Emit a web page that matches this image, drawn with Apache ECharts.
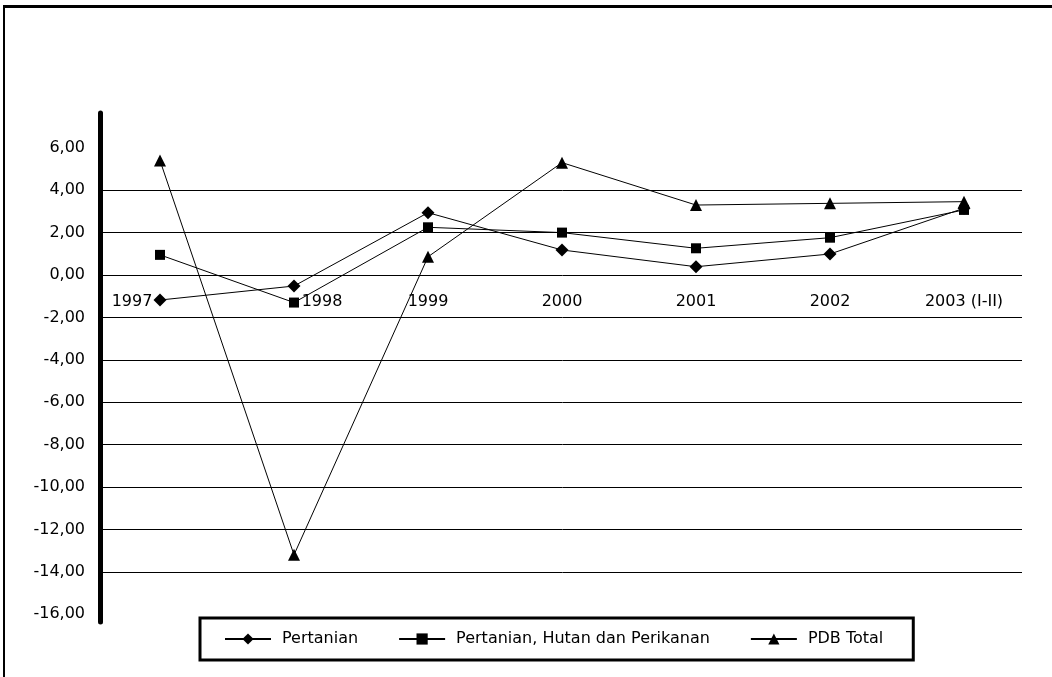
<!DOCTYPE html>
<html>
<head>
<meta charset="utf-8">
<script src="https://cdn.jsdelivr.net/npm/echarts@6/dist/echarts.min.js"></script>
<style>
    html, body {margin:0; padding:0; background:#fff;}
    #chart {width:1052px; height:677px;}
    /* bingkai kiri & atas dari gambar asli */
    #frame {position:absolute; left:3px; top:5px; right:0; bottom:0; border-top:3px solid #000; border-left:2px solid #000; pointer-events:none;}
</style>
</head>
<body>
<div id="chart"></div>
<div id="frame"></div>
<script>
// data
var years = ['1997', '1998', '1999', '2000', '2001', '2002', '2003 (I-II)'];
var pertanian = [-1.18, -0.52, 2.94, 1.18, 0.39, 0.99, 3.15];
var pertanianHutan = [0.95, -1.30, 2.25, 2.00, 1.26, 1.76, 3.07];
var pdbTotal = [5.40, -13.20, 0.86, 5.30, 3.30, 3.38, 3.46];
var seriesNames = ['Pertanian', 'Pertanian, Hutan dan Perikanan', 'PDB Total'];
// sumbu y
var yMin = -16, yMax = 8, yStep = 2, yLabelMax = 6;
var gridLineMin = -14, gridLineMax = 4;

var font = 'DejaVu Sans';
var plotHeight = 508.8;
// label tahun berada di garis nol: geser sumbu x dari bawah ke posisi 0
var zeroOffset = -plotHeight * (0 - yMin) / (yMax - yMin);
// label 1997 digeser ke kiri, 1998 ke kanan (seperti gambar asli)
var labelStyle = {'1997': 'kiri', '1998': 'kanan'};

var chart = echarts.init(document.getElementById('chart'));

function lineSeries(name, data, symbol, size) {
    return {
        name: name,
        type: 'line',
        xAxisIndex: 1,
        yAxisIndex: 1,
        data: data,
        symbol: symbol,
        symbolSize: size,
        showAllSymbol: true,
        lineStyle: {color: '#000', width: 1},
        itemStyle: {color: '#000'},
        emphasis: {disabled: true}
    };
}

var option = {
    animation: false,
    backgroundColor: '#fff',
    grid: [
        {left: 103, right: 30, top: 190.2, height: 381.6},      // garis bantu
        {left: 160, right: 88, top: 105.4, height: plotHeight}, // seri
        {left: 100.5, width: 10, top: 113, height: 509}         // sumbu tebal
    ],
    xAxis: [
        {gridIndex: 0, type: 'value', show: false},
        {
            gridIndex: 1,
            type: 'category',
            data: years,
            boundaryGap: false,
            position: 'bottom',
            offset: zeroOffset,
            axisLine: {show: false, onZero: false},
            axisTick: {show: false},
            axisLabel: {
                interval: 0,
                hideOverlap: false,
                margin: 19,
                color: '#000',
                fontSize: 16,
                fontFamily: font,
                formatter: function (v) {
                    var s = labelStyle[v];
                    return s ? '{' + s + '|' + v + '}' : v;
                },
                rich: {
                    kiri: {padding: [0, 56, 0, 0], fontSize: 16, fontFamily: font, color: '#000'},
                    kanan: {padding: [0, 0, 0, 56], fontSize: 16, fontFamily: font, color: '#000'}
                }
            }
        },
        {gridIndex: 2, type: 'value', show: false}
    ],
    yAxis: [
        {
            gridIndex: 0,
            type: 'value',
            min: gridLineMin,
            max: gridLineMax,
            interval: yStep,
            axisLine: {show: false},
            axisTick: {show: false},
            axisLabel: {show: false},
            splitLine: {show: true, lineStyle: {color: '#000', width: 1}}
        },
        {
            gridIndex: 1,
            type: 'value',
            min: yMin,
            max: yMax,
            interval: yStep,
            offset: 60,
            axisLine: {show: false},
            axisTick: {show: false},
            splitLine: {show: false},
            axisLabel: {
                margin: 15,
                color: '#000',
                fontSize: 16,
                fontFamily: font,
                formatter: function (v) {
                    if (v > yLabelMax) return '';
                    return v.toFixed(2).replace('.', ',');
                }
            }
        },
        {
            gridIndex: 2,
            type: 'value',
            min: 0,
            max: 1,
            axisLine: {show: true, lineStyle: {color: '#000', width: 5}},
            axisTick: {show: false},
            axisLabel: {show: false},
            splitLine: {show: false}
        }
    ],
    legend: {
        data: seriesNames,
        left: 200,
        top: 618,
        orient: 'horizontal',
        borderColor: '#000',
        borderWidth: 3,
        padding: [13, 30, 13, 24],
        itemGap: 40,
        itemWidth: 46,
        itemHeight: 14,
        selectedMode: false,
        textStyle: {color: '#000', fontSize: 16, fontFamily: font, padding: [0, 0, 0, 6]}
    },
    series: [
        lineSeries(seriesNames[0], pertanian, 'diamond', 13),
        lineSeries(seriesNames[1], pertanianHutan, 'rect', 10),
        lineSeries(seriesNames[2], pdbTotal, 'triangle', 12)
    ]
};
chart.setOption(option);
</script>
</body>
</html>
